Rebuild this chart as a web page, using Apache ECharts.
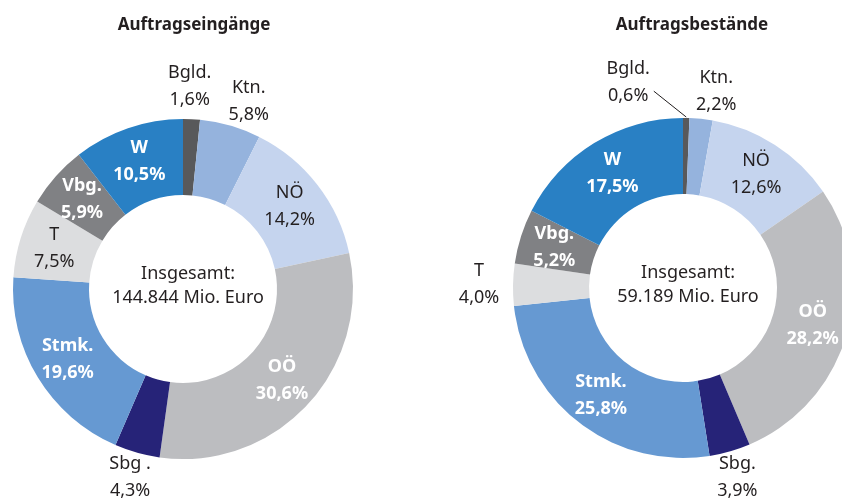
<!DOCTYPE html>
<html>
<head>
<meta charset="utf-8">
<script src="https://cdn.jsdelivr.net/npm/echarts@6/dist/echarts.min.js"></script>
<style>
  html, body { margin: 0; padding: 0; background: #fff; }
  #chart { width: 842px; height: 499px; }
</style>
</head>
<body>
<div id="chart"></div>
<script>
// Bundesländer, Reihenfolge im Uhrzeigersinn ab 12 Uhr
var namesEingaenge = ['Bgld.', 'Ktn.', 'NÖ', 'OÖ', 'Sbg .', 'Stmk.', 'T', 'Vbg.', 'W'];
var namesBestaende = ['Bgld.', 'Ktn.', 'NÖ', 'OÖ', 'Sbg.', 'Stmk.', 'T', 'Vbg.', 'W'];
// Anteile in %
var eingaenge = [1.6, 5.8, 14.2, 30.6, 4.3, 19.6, 7.5, 5.9, 10.5];
var bestaende = [0.6, 2.2, 12.6, 28.2, 3.9, 25.8, 4.0, 5.2, 17.5];
var titles = ['Auftragseingänge', 'Auftragsbestände'];
var totals = ['144.844', '59.189'];

// Label-Art je Segment: in = weiß fett, dark = innen dunkel, out = außen
var labelModeEingaenge = ['out', 'out', 'dark', 'in', 'out', 'in', 'dark', 'in', 'in'];
var labelModeBestaende = ['out', 'out', 'dark', 'in', 'out', 'in', 'out', 'in', 'in'];

var colors = ['#58595b', '#95b3dd', '#c5d4ee', '#bcbdc0', '#262378', '#6699d2', '#dcdddf', '#808184', '#2980c4'];
var centers = [[183, 289], [683, 288]];
var FONT = '"Noto Sans", sans-serif';
var DARK = '#231f20';

// Feinkorrektur der Außenlabels: [Winkelversatz in Grad, Abstand zur Mitte]
var adjustEingaenge = { 0: [-1, 203], 1: [3.1, 199], 4: [0, 196] };
var adjustBestaende = { 0: [-16, 213], 1: [3.5, 199], 4: [0, 197], 6: [0, 204] };

var chart = echarts.init(document.getElementById('chart'));

function fmt(v) {
    return v.toFixed(1).replace('.', ',') + '%';
}

function buildData(names, values, modes, guideIndex) {
    return values.map(function (v, i) {
        var m = modes[i];
        return {
            name: names[i],
            value: v,
            itemStyle: { color: colors[i] },
            label: {
                position: m === 'out' ? 'outside' : 'inside',
                color: m === 'in' ? '#fff' : DARK,
                fontWeight: m === 'in' ? 'bold' : 'normal'
            },
            labelLine: { show: i === guideIndex, lineStyle: { color: DARK, width: 1 } }
        };
    });
}

// Außenlabels entlang der Segmentmitte platzieren
function outsideLayout(values, modes, center, adjust, guideIndex) {
    var total = values.reduce(function (a, b) { return a + b; }, 0);
    return function (params) {
        var i = params.dataIndex;
        if (modes[i] !== 'out') return {};
        var start = 0;
        for (var k = 0; k < i; k++) start += values[k];
        var mid = (start + values[i] / 2) / total * Math.PI * 2;
        var adj = adjust[i] || [0, 198];
        var ang = mid + adj[0] * Math.PI / 180;
        var x = center[0] + adj[1] * Math.sin(ang);
        var y = center[1] - adj[1] * Math.cos(ang);
        var res = { x: x, y: y, align: 'center', verticalAlign: 'middle' };
        if (i === guideIndex) {
            var w = params.labelRect.width;
            res.labelLinePoints = [
                [x + w / 2 + 4, y + 9],
                [center[0] + 171 * Math.sin(mid), center[1] - 171 * Math.cos(mid)]
            ];
        }
        return res;
    };
}

function pieSeries(names, values, modes, center, adjust, guideIndex) {
    return {
        type: 'pie',
        center: center,
        radius: [94, 170],
        startAngle: 90,
        clockwise: true,
        avoidLabelOverlap: false,
        minShowLabelAngle: 0,
        silent: true,
        label: {
            formatter: function (p) { return p.name + '\n' + fmt(p.value); },
            fontFamily: FONT,
            fontSize: 18,
            lineHeight: 27
        },
        labelLayout: outsideLayout(values, modes, center, adjust, guideIndex),
        data: buildData(names, values, modes, guideIndex)
    };
}

function centerTitle(idx) {
    return {
        text: 'Insgesamt:\n' + totals[idx] + ' Mio. Euro',
        left: centers[idx][0], top: centers[idx][1] - 8,
        textAlign: 'center', textVerticalAlign: 'middle',
        textStyle: { fontFamily: FONT, fontSize: 18, fontWeight: 'normal', color: DARK, lineHeight: 24 }
    };
}

var option = {
    backgroundColor: '#fff',
    animation: false,
    title: [
        {
            text: titles[0], left: 189, top: 12, textAlign: 'center',
            textStyle: { fontFamily: FONT, fontSize: 17, fontWeight: 'bold', color: DARK }
        },
        {
            text: titles[1], left: 687, top: 12, textAlign: 'center',
            textStyle: { fontFamily: FONT, fontSize: 17, fontWeight: 'bold', color: DARK }
        },
        centerTitle(0),
        centerTitle(1)
    ],
    series: [
        pieSeries(namesEingaenge, eingaenge, labelModeEingaenge, centers[0], adjustEingaenge, -1),
        pieSeries(namesBestaende, bestaende, labelModeBestaende, centers[1], adjustBestaende, 0)
    ]
};
chart.setOption(option);
</script>
</body>
</html>
